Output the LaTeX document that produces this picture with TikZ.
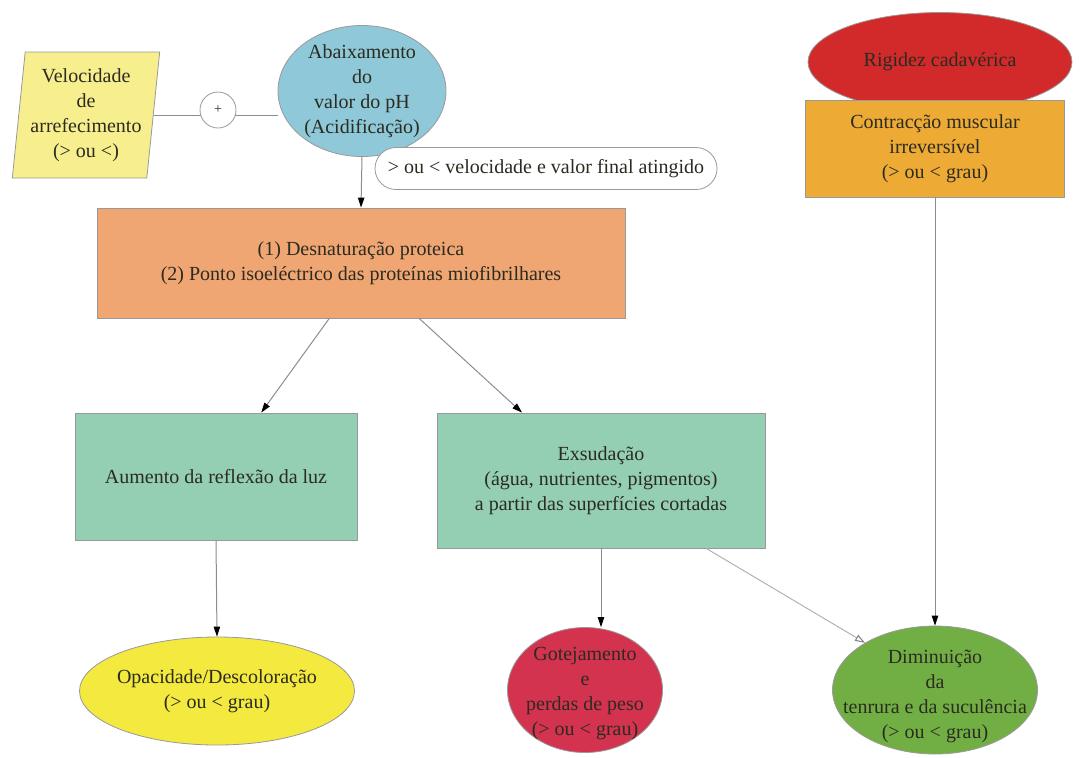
\documentclass[tikz,border=0pt]{standalone}
\usepackage{fontspec}
\setmainfont{Liberation Serif}
\usepackage{xcolor}
\usepackage{tikz}
\usetikzlibrary{arrows.meta,positioning,calc,shapes.geometric,shapes.misc}
\definecolor{velyellow}{HTML}{F7EE8E}
\definecolor{phblue}{HTML}{8FC8D8}
\definecolor{desnorange}{HTML}{EFA673}
\definecolor{mintgreen}{HTML}{94CFB3}
\definecolor{opacyellow}{HTML}{F4E93F}
\definecolor{dripred}{HTML}{D3334F}
\definecolor{tendergreen}{HTML}{71AF45}
\definecolor{rigidred}{HTML}{D22A2A}
\definecolor{contrgold}{HTML}{EDAA35}
\definecolor{inkdark}{HTML}{2B2B20}

\begin{document}
\begin{tikzpicture}[x=0.5pt,y=-0.5pt,font=\fontsize{10}{12.5}\selectfont,text=inkdark,
    box/.style={rectangle,draw=black!40,line width=0.4pt,align=center,inner sep=0pt},
    oval/.style={ellipse,draw=black!40,line width=0.4pt,inner sep=0pt},
    arr/.style={draw=black!45,line width=0.5pt,-{Triangle[length=5pt,width=3.2pt,color=black]}},
    openarr/.style={draw=black!30,line width=0.5pt,-{Triangle[open,length=5pt,width=3.4pt,color=black!50]}}]
    \useasboundingbox (0,0) rectangle (1087,757);

    % top row
    \node[trapezium,trapezium left angle=82.8,trapezium right angle=97.2,trapezium stretches=true,
          minimum width=74pt,minimum height=63pt,fill=velyellow,draw=black!40,line width=0.4pt,
          align=center,inner sep=0pt] (velo) at (86,115) {Velocidade\\de\\arrefecimento\\(> ou <)};
    \node[oval,fill=phblue,minimum width=84pt,minimum height=65.5pt,
          label={[align=center]center:{Abaixamento\\do\\valor do pH\\(Acidificação)}}] (ph) at (362,91) {};
    \node[rounded rectangle,draw=black!40,line width=0.4pt,fill=white,minimum width=171pt,
          minimum height=21pt,inner sep=0pt] (note) at (546,168.5) {> ou < velocidade e valor final atingido};
    \node[oval,fill=rigidred,minimum width=132pt,minimum height=49.5pt,
          label={center:Rigidez cadavérica}] (rigid) at (940,62) {};
    \node[box,fill=contrgold,minimum width=129.5pt,minimum height=48.5pt] (contr) at (935,148.5)
          {Contracção muscular\\irreversível\\(> ou < grau)};

    % middle
    \node[box,fill=desnorange,minimum width=264pt,minimum height=55pt] (desn) at (361,263)
          {(1) Desnaturação proteica\\(2) Ponto isoeléctrico das proteínas miofibrilhares};
    \node[box,fill=mintgreen,minimum width=141pt,minimum height=63.5pt] (refl) at (216,476.5)
          {Aumento da reflexão da luz};
    \node[box,fill=mintgreen,minimum width=164pt,minimum height=67.5pt] (exsu) at (601,480.5)
          {Exsudação\\(água, nutrientes, pigmentos)\\a partir das superfícies cortadas};

    % bottom row
    \node[oval,fill=opacyellow,minimum width=137.5pt,minimum height=54pt,
          label={[align=center]center:{Opacidade/Descoloração\\(> ou < grau)}}] (opac) at (217,691) {};
    \node[oval,fill=dripred,minimum width=77.5pt,minimum height=62.5pt,
          label={[align=center,yshift=-2pt]center:{Gotejamento\\e\\perdas de peso\\(> ou < grau)}}] (drip) at (585,690) {};
    \node[oval,fill=tendergreen,minimum width=102.5pt,minimum height=64pt,
          label={[align=center,yshift=-3pt]center:{Diminuição\\da\\tenrura e da suculência\\(> ou < grau)}}] (tender) at (935,690) {};

    % connectors
    \draw[draw=black!45,line width=0.5pt] (velo.east) -- (velo.east -| ph.west);
    \node[circle,draw=black!40,line width=0.4pt,fill=white,minimum size=18pt,inner sep=0pt,
          font=\fontsize{7}{8}\selectfont] (plus) at (218,110) {+};
    \draw[arr] (ph.south) -- (desn.north);
    \draw[arr] ($(desn.south west)!0.44!(desn.south east)$) -- ($(refl.north west)!0.66!(refl.north east)$);
    \draw[arr] ($(desn.south west)!0.61!(desn.south east)$) -- ($(exsu.north west)!0.26!(exsu.north east)$);
    \draw[arr] (refl.south) -- (opac.north);
    \draw[arr] (exsu.south) -- (exsu.south |- drip.north);
    \draw[openarr] ($(exsu.south west)!0.82!(exsu.south east)$) -- (tender.146);
    \draw[arr] (contr.south) -- (tender.north);
\end{tikzpicture}
\end{document}
